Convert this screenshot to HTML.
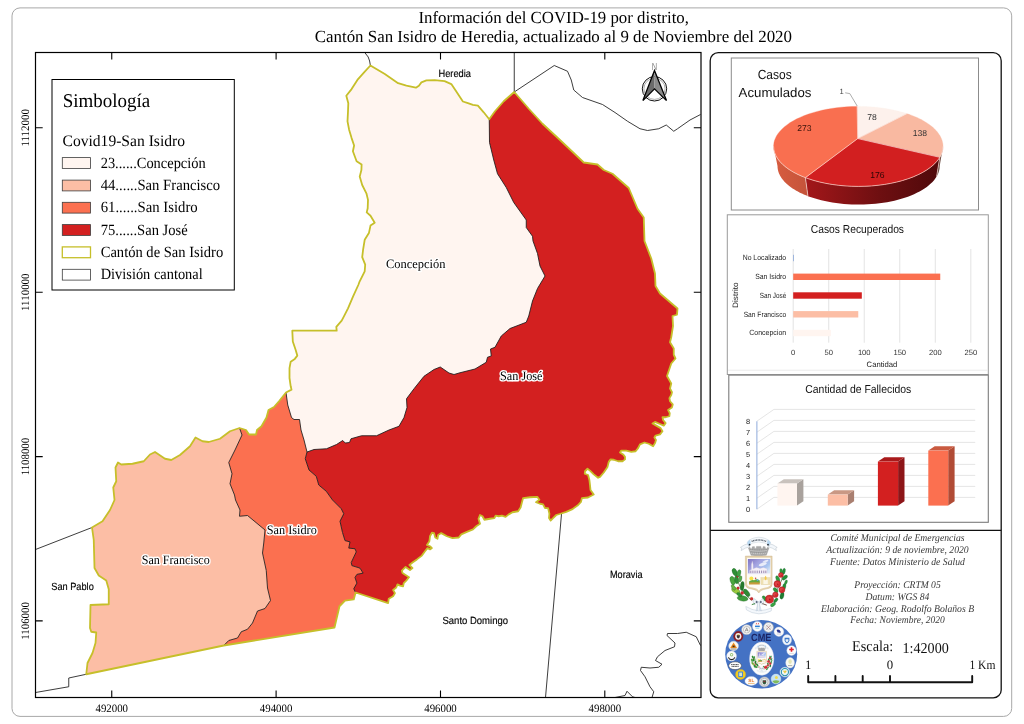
<!DOCTYPE html>
<html><head><meta charset="utf-8"><title>COVID-19 San Isidro de Heredia</title>
<style>
html,body{margin:0;padding:0;background:#fff;}
body{width:1024px;height:724px;overflow:hidden;}
svg{display:block;}
text{text-rendering:geometricPrecision;}
text{font-family:"Liberation Sans",sans-serif;}
.se{font-family:"Liberation Serif",serif;}
.sa{font-family:"Liberation Sans",sans-serif;}
.halo{paint-order:stroke;stroke:#fff;stroke-width:2.9px;stroke-linejoin:round;}
</style></head><body>
<svg width="1024" height="724" viewBox="0 0 1024 724" style="will-change:transform;opacity:0.9999">
<defs>
<linearGradient id="gside" x1="0" y1="0" x2="1" y2="0"><stop offset="0" stop-color="#a3171a"/><stop offset="0.55" stop-color="#6e0f11"/><stop offset="1" stop-color="#4f090b"/></linearGradient>
<linearGradient id="gside2" x1="0" y1="0" x2="1" y2="0"><stop offset="0" stop-color="#d85d40"/><stop offset="1" stop-color="#c4533a"/></linearGradient>
<clipPath id="mapclip"><rect x="35.5" y="52.5" width="665.5" height="645"/></clipPath>
</defs>
<rect width="1024" height="724" fill="#fff"/>

<rect x="12" y="7.9" width="999.7" height="708.5" rx="8" ry="8" fill="#fff" stroke="#a8a8a8" stroke-width="1"/>
<text class="se" x="553.7" y="22.6" font-size="17" text-anchor="middle" textLength="270.5" lengthAdjust="spacingAndGlyphs" fill="#000">Información del COVID-19 por distrito,</text>
<text class="se" x="553.4" y="42.2" font-size="17" text-anchor="middle" textLength="477.2" lengthAdjust="spacingAndGlyphs" fill="#000">Cantón San Isidro de Heredia, actualizado al 9 de Noviembre del 2020</text>
<g clip-path="url(#mapclip)">
<path d="M370.40,65.50 L384.80,74.10 L398.10,83.20 L406.40,85.70 L415.90,87.70 L418.90,85.70 L421.40,82.40 L426.40,80.40 L434.70,80.20 L444.60,81.20 L451.30,84.10 L456.30,91.50 L462.90,101.50 L467.90,103.20 L472.90,104.80 L477.90,105.70 L483.70,112.30 L489.25,119.25 L489.50,142.50 L493.75,160.00 L497.50,173.75 L506.25,187.50 L513.75,202.50 L526.25,220.00 L526.25,227.50 L532.50,236.25 L533.00,241.00 L537.50,253.50 L540.00,266.00 L545.00,276.00 L537.50,288.50 L532.50,301.00 L528.75,316.00 L526.25,322.25 L510.00,328.50 L501.25,336.00 L495.00,347.25 L490.50,349.00 L491.25,356.00 L487.50,357.25 L486.25,362.25 L475.00,369.00 L460.00,372.75 L454.00,374.50 L449.00,373.00 L440.25,367.00 L434.00,369.50 L424.00,376.25 L414.00,388.75 L406.50,398.75 L407.00,407.50 L404.00,417.50 L399.00,426.25 L389.00,430.00 L376.50,435.75 L361.50,435.75 L351.00,438.75 L349.50,442.50 L345.25,443.00 L342.75,440.50 L336.50,444.50 L326.50,448.75 L314.00,449.50 L307.00,452.00 L304.00,440.00 L301.00,430.00 L299.50,419.50 L294.00,419.50 L291.50,417.50 L287.75,405.00 L286.00,392.50 L291.50,389.60 L290.70,386.30 L289.50,378.00 L289.50,368.10 L290.70,361.70 L294.80,358.90 L297.30,355.60 L295.60,349.80 L292.80,341.50 L292.30,330.70 L336.70,330.70 L336.30,326.90 L341.70,320.70 L344.70,314.90 L348.00,308.30 L353.00,296.60 L358.30,285.00 L359.70,281.30 L364.70,271.30 L365.20,264.70 L362.20,257.20 L363.10,249.70 L364.70,239.80 L368.90,233.10 L370.50,225.60 L374.70,222.80 L370.50,215.70 L366.70,212.40 L367.70,208.20 L368.00,199.90 L366.40,193.30 L362.20,185.00 L359.70,176.60 L361.40,170.00 L361.60,164.60 L356.60,161.30 L352.90,151.30 L354.10,145.50 L351.60,138.10 L349.10,129.70 L347.50,121.40 L348.00,111.50 L348.30,103.20 L346.30,95.70 L351.60,89.10 L357.40,79.90 L364.10,72.40 L370.40,65.50 Z" fill="#fff5f0"/>
<path d="M239.50,428.00 L230.00,431.25 L220.00,438.75 L208.75,442.00 L202.50,441.25 L195.50,437.50 L190.00,446.25 L180.00,455.00 L171.25,460.00 L165.00,458.75 L155.00,452.00 L150.00,454.50 L143.75,461.25 L132.50,463.75 L121.25,464.50 L118.00,462.50 L115.50,467.50 L116.25,481.25 L113.25,487.50 L114.50,500.00 L110.00,510.00 L102.50,521.25 L92.00,527.50 L93.75,540.00 L94.50,568.00 L98.75,575.50 L106.25,580.50 L108.75,589.25 L108.75,604.25 L90.50,605.00 L90.00,628.00 L91.25,631.75 L96.25,632.50 L95.50,643.00 L92.50,653.00 L87.50,663.00 L86.25,674.25 L223.75,645.50 L228.75,640.50 L237.50,638.00 L241.25,631.75 L247.50,629.25 L252.50,623.00 L257.50,611.00 L265.00,608.50 L270.50,600.50 L267.50,588.00 L266.25,570.50 L262.50,553.00 L263.75,543.00 L265.00,530.00 L247.50,515.50 L239.50,516.25 L240.00,510.00 L235.50,500.00 L234.50,495.00 L230.00,483.75 L232.00,473.75 L228.75,462.50 L235.00,450.00 L242.00,435.00 L239.50,428.00 Z" fill="#fcbea5"/>
<path d="M286.00,392.50 L287.75,405.00 L291.50,417.50 L294.00,419.50 L299.50,419.50 L301.00,430.00 L304.00,440.00 L307.00,452.00 L305.25,458.75 L309.00,470.00 L316.25,476.25 L318.75,485.00 L326.25,491.25 L332.50,500.00 L341.25,508.75 L343.75,513.75 L340.00,521.25 L342.50,532.50 L345.00,540.60 L350.00,541.90 L348.75,548.10 L355.00,548.75 L356.25,551.90 L351.25,562.50 L351.90,565.60 L360.00,568.10 L363.10,573.10 L356.90,574.40 L355.00,577.50 L356.90,583.10 L353.75,588.75 L355.60,592.50 L353.75,599.40 L345.00,600.60 L339.50,606.25 L334.50,627.50 L223.75,645.50 L228.75,640.50 L237.50,638.00 L241.25,631.75 L247.50,629.25 L252.50,623.00 L257.50,611.00 L265.00,608.50 L270.50,600.50 L267.50,588.00 L266.25,570.50 L262.50,553.00 L263.75,543.00 L265.00,530.00 L247.50,515.50 L239.50,516.25 L240.00,510.00 L235.50,500.00 L234.50,495.00 L230.00,483.75 L232.00,473.75 L228.75,462.50 L235.00,450.00 L242.00,435.00 L239.50,428.00 L246.00,430.00 L249.00,434.50 L256.00,434.50 L257.00,430.00 L261.50,426.25 L266.50,417.50 L268.50,410.00 L274.00,407.00 L279.00,401.25 L286.00,392.50 Z" fill="#fb7050"/>
<path d="M489.25,119.25 L495.00,111.25 L503.75,101.25 L514.25,92.00 L528.75,108.75 L542.50,123.75 L560.00,140.00 L583.75,162.50 L597.50,164.50 L603.75,170.00 L612.50,173.75 L628.75,188.00 L637.50,208.75 L643.75,217.50 L644.50,241.00 L651.25,258.50 L655.00,273.50 L655.50,286.00 L660.00,293.50 L677.50,308.50 L677.00,314.75 L672.50,316.00 L673.00,326.00 L671.25,337.25 L670.00,342.25 L673.75,348.50 L673.75,354.75 L675.50,358.50 L671.25,363.50 L667.00,376.00 L671.25,383.50 L670.00,388.50 L672.00,392.25 L671.25,395.00 L669.40,398.10 L670.00,401.25 L672.75,404.40 L671.90,407.50 L668.10,410.00 L669.75,413.10 L669.40,416.25 L665.60,417.25 L662.50,417.25 L663.10,420.00 L665.60,423.10 L663.75,425.60 L659.40,423.75 L655.00,421.90 L652.50,423.50 L656.25,425.60 L660.60,428.10 L662.50,431.25 L660.00,434.40 L655.60,435.60 L654.40,437.50 L656.00,440.00 L655.00,443.10 L653.10,446.25 L648.75,443.75 L644.40,442.50 L640.00,444.40 L638.10,448.10 L635.60,451.25 L631.25,451.90 L626.25,450.60 L621.25,450.60 L620.00,452.50 L623.10,454.40 L625.00,456.90 L625.00,459.40 L622.50,461.25 L618.10,461.25 L613.75,459.75 L610.60,459.40 L608.75,461.90 L607.50,466.90 L603.75,472.50 L600.00,476.90 L598.10,477.75 L593.75,474.40 L590.00,470.60 L587.50,468.75 L585.00,471.25 L584.75,473.75 L588.10,475.00 L589.40,480.00 L590.00,485.00 L590.50,490.00 L593.75,494.50 L588.00,497.50 L581.90,498.10 L581.00,501.90 L577.50,505.60 L571.90,509.40 L566.25,511.90 L561.25,513.50 L556.25,515.00 L553.10,518.10 L550.60,520.60 L549.00,518.10 L549.40,513.75 L548.10,508.10 L545.00,508.10 L543.10,504.40 L540.00,503.75 L536.00,502.25 L539.40,499.75 L537.50,496.90 L530.00,497.25 L523.10,498.10 L521.90,502.50 L520.60,507.50 L518.10,511.25 L512.50,512.25 L508.75,514.40 L505.60,516.90 L501.90,515.60 L498.75,516.25 L495.60,515.60 L494.40,518.10 L490.00,518.75 L484.40,519.75 L482.50,516.25 L480.00,515.00 L478.50,518.75 L480.00,523.75 L476.25,526.25 L473.00,529.40 L466.90,531.90 L461.25,534.40 L458.75,537.50 L452.50,538.10 L446.90,536.25 L441.25,533.10 L438.10,535.00 L437.50,538.75 L435.25,537.50 L434.00,533.10 L431.90,532.75 L430.00,536.25 L429.40,541.25 L426.90,545.00 L430.00,546.25 L431.90,548.10 L430.00,549.40 L427.50,548.10 L425.00,551.25 L421.90,555.60 L416.90,559.40 L412.50,562.50 L409.40,565.00 L412.50,568.10 L410.00,570.00 L405.60,566.90 L401.90,570.60 L402.50,573.10 L409.00,577.25 L406.25,580.60 L403.75,583.10 L403.10,586.25 L400.00,585.60 L397.50,584.40 L396.25,587.50 L393.10,590.00 L395.00,593.10 L393.10,596.25 L388.75,598.75 L388.10,603.10 L355.60,592.50 L353.75,588.75 L356.90,583.10 L355.00,577.50 L356.90,574.40 L363.10,573.10 L360.00,568.10 L351.90,565.60 L351.25,562.50 L356.25,551.90 L355.00,548.75 L348.75,548.10 L350.00,541.90 L345.00,540.60 L342.50,532.50 L340.00,521.25 L343.75,513.75 L341.25,508.75 L332.50,500.00 L326.25,491.25 L318.75,485.00 L316.25,476.25 L309.00,470.00 L305.25,458.75 L307.00,452.00 L314.00,449.50 L326.50,448.75 L336.50,444.50 L342.75,440.50 L345.25,443.00 L349.50,442.50 L351.00,438.75 L361.50,435.75 L376.50,435.75 L389.00,430.00 L399.00,426.25 L404.00,417.50 L407.00,407.50 L406.50,398.75 L414.00,388.75 L424.00,376.25 L434.00,369.50 L440.25,367.00 L449.00,373.00 L454.00,374.50 L460.00,372.75 L475.00,369.00 L486.25,362.25 L487.50,357.25 L491.25,356.00 L490.50,349.00 L495.00,347.25 L501.25,336.00 L510.00,328.50 L526.25,322.25 L528.75,316.00 L532.50,301.00 L537.50,288.50 L545.00,276.00 L540.00,266.00 L537.50,253.50 L533.00,241.00 L532.50,236.25 L526.25,227.50 L526.25,220.00 L513.75,202.50 L506.25,187.50 L497.50,173.75 L493.75,160.00 L489.50,142.50 L489.25,119.25 Z" fill="#d32020"/>
<path d="M489.25,119.25 L489.50,142.50 L493.75,160.00 L497.50,173.75 L506.25,187.50 L513.75,202.50 L526.25,220.00 L526.25,227.50 L532.50,236.25 L533.00,241.00 L537.50,253.50 L540.00,266.00 L545.00,276.00 L537.50,288.50 L532.50,301.00 L528.75,316.00 L526.25,322.25 L510.00,328.50 L501.25,336.00 L495.00,347.25 L490.50,349.00 L491.25,356.00 L487.50,357.25 L486.25,362.25 L475.00,369.00 L460.00,372.75 L454.00,374.50 L449.00,373.00 L440.25,367.00 L434.00,369.50 L424.00,376.25 L414.00,388.75 L406.50,398.75 L407.00,407.50 L404.00,417.50 L399.00,426.25 L389.00,430.00 L376.50,435.75 L361.50,435.75 L351.00,438.75 L349.50,442.50 L345.25,443.00 L342.75,440.50 L336.50,444.50 L326.50,448.75 L314.00,449.50 L307.00,452.00" fill="none" stroke="#1a1a1a" stroke-width="0.85" stroke-linejoin="round"/>
<path d="M286.00,392.50 L287.75,405.00 L291.50,417.50 L294.00,419.50 L299.50,419.50 L301.00,430.00 L304.00,440.00 L307.00,452.00" fill="none" stroke="#1a1a1a" stroke-width="0.85" stroke-linejoin="round"/>
<path d="M307.00,452.00 L305.25,458.75 L309.00,470.00 L316.25,476.25 L318.75,485.00 L326.25,491.25 L332.50,500.00 L341.25,508.75 L343.75,513.75 L340.00,521.25 L342.50,532.50 L345.00,540.60 L350.00,541.90 L348.75,548.10 L355.00,548.75 L356.25,551.90 L351.25,562.50 L351.90,565.60 L360.00,568.10 L363.10,573.10 L356.90,574.40 L355.00,577.50 L356.90,583.10 L353.75,588.75 L355.60,592.50" fill="none" stroke="#1a1a1a" stroke-width="0.85" stroke-linejoin="round"/>
<path d="M239.50,428.00 L242.00,435.00 L235.00,450.00 L228.75,462.50 L232.00,473.75 L230.00,483.75 L234.50,495.00 L235.50,500.00 L240.00,510.00 L239.50,516.25 L247.50,515.50 L265.00,530.00 L263.75,543.00 L262.50,553.00 L266.25,570.50 L267.50,588.00 L270.50,600.50 L265.00,608.50 L257.50,611.00 L252.50,623.00 L247.50,629.25 L241.25,631.75 L237.50,638.00 L228.75,640.50 L223.75,645.50" fill="none" stroke="#1a1a1a" stroke-width="0.85" stroke-linejoin="round"/>
<path d="M364.75,52.50 L368.20,57.00 L369.60,61.00 L370.40,65.50" fill="none" stroke="#1a1a1a" stroke-width="0.85" stroke-linejoin="round"/>
<path d="M514.25,52.50 L514.25,92.00" fill="none" stroke="#1a1a1a" stroke-width="0.85" stroke-linejoin="round"/>
<path d="M514.25,92.00 L554.25,65.50 L567.50,71.25 L571.25,80.00 L573.75,90.00 L582.50,97.50 L602.50,104.50 L615.00,112.50 L627.50,121.25 L640.00,128.75 L647.50,130.50 L658.75,128.75 L666.25,125.00 L673.75,131.25 L677.50,128.75 L690.00,120.00 L700.50,114.50" fill="none" stroke="#1a1a1a" stroke-width="0.85" stroke-linejoin="round"/>
<path d="M561.50,514.00 L545.50,697.50" fill="none" stroke="#1a1a1a" stroke-width="0.85" stroke-linejoin="round"/>
<path d="M92.00,527.50 L35.50,549.50" fill="none" stroke="#1a1a1a" stroke-width="0.85" stroke-linejoin="round"/>
<path d="M86.25,674.25 L68.75,678.00 L68.75,686.75 L35.50,692.50" fill="none" stroke="#1a1a1a" stroke-width="0.85" stroke-linejoin="round"/>
<path d="M700.50,645.50 L696.25,636.75 L686.25,632.25 L677.50,633.50 L667.50,633.50 L667.00,635.50 L675.00,643.00 L674.50,646.75 L665.00,650.50 L657.50,656.75 L655.50,660.50 L662.00,664.25 L658.75,667.25 L650.00,668.00 L641.25,667.25 L640.50,670.50 L645.00,676.75 L650.00,686.75 L653.75,691.75 L652.00,697.50" fill="none" stroke="#1a1a1a" stroke-width="0.85" stroke-linejoin="round"/>
<path d="M615.00,697.50 L625.00,695.50 L627.00,691.25 L632.50,696.75 L635.00,697.50" fill="none" stroke="#1a1a1a" stroke-width="0.85" stroke-linejoin="round"/>
<path d="M370.40,65.50 L384.80,74.10 L398.10,83.20 L406.40,85.70 L415.90,87.70 L418.90,85.70 L421.40,82.40 L426.40,80.40 L434.70,80.20 L444.60,81.20 L451.30,84.10 L456.30,91.50 L462.90,101.50 L467.90,103.20 L472.90,104.80 L477.90,105.70 L483.70,112.30 L489.25,119.25 L495.00,111.25 L503.75,101.25 L514.25,92.00 L528.75,108.75 L542.50,123.75 L560.00,140.00 L583.75,162.50 L597.50,164.50 L603.75,170.00 L612.50,173.75 L628.75,188.00 L637.50,208.75 L643.75,217.50 L644.50,241.00 L651.25,258.50 L655.00,273.50 L655.50,286.00 L660.00,293.50 L677.50,308.50 L677.00,314.75 L672.50,316.00 L673.00,326.00 L671.25,337.25 L670.00,342.25 L673.75,348.50 L673.75,354.75 L675.50,358.50 L671.25,363.50 L667.00,376.00 L671.25,383.50 L670.00,388.50 L672.00,392.25 L671.25,395.00 L669.40,398.10 L670.00,401.25 L672.75,404.40 L671.90,407.50 L668.10,410.00 L669.75,413.10 L669.40,416.25 L665.60,417.25 L662.50,417.25 L663.10,420.00 L665.60,423.10 L663.75,425.60 L659.40,423.75 L655.00,421.90 L652.50,423.50 L656.25,425.60 L660.60,428.10 L662.50,431.25 L660.00,434.40 L655.60,435.60 L654.40,437.50 L656.00,440.00 L655.00,443.10 L653.10,446.25 L648.75,443.75 L644.40,442.50 L640.00,444.40 L638.10,448.10 L635.60,451.25 L631.25,451.90 L626.25,450.60 L621.25,450.60 L620.00,452.50 L623.10,454.40 L625.00,456.90 L625.00,459.40 L622.50,461.25 L618.10,461.25 L613.75,459.75 L610.60,459.40 L608.75,461.90 L607.50,466.90 L603.75,472.50 L600.00,476.90 L598.10,477.75 L593.75,474.40 L590.00,470.60 L587.50,468.75 L585.00,471.25 L584.75,473.75 L588.10,475.00 L589.40,480.00 L590.00,485.00 L590.50,490.00 L593.75,494.50 L588.00,497.50 L581.90,498.10 L581.00,501.90 L577.50,505.60 L571.90,509.40 L566.25,511.90 L561.25,513.50 L556.25,515.00 L553.10,518.10 L550.60,520.60 L549.00,518.10 L549.40,513.75 L548.10,508.10 L545.00,508.10 L543.10,504.40 L540.00,503.75 L536.00,502.25 L539.40,499.75 L537.50,496.90 L530.00,497.25 L523.10,498.10 L521.90,502.50 L520.60,507.50 L518.10,511.25 L512.50,512.25 L508.75,514.40 L505.60,516.90 L501.90,515.60 L498.75,516.25 L495.60,515.60 L494.40,518.10 L490.00,518.75 L484.40,519.75 L482.50,516.25 L480.00,515.00 L478.50,518.75 L480.00,523.75 L476.25,526.25 L473.00,529.40 L466.90,531.90 L461.25,534.40 L458.75,537.50 L452.50,538.10 L446.90,536.25 L441.25,533.10 L438.10,535.00 L437.50,538.75 L435.25,537.50 L434.00,533.10 L431.90,532.75 L430.00,536.25 L429.40,541.25 L426.90,545.00 L430.00,546.25 L431.90,548.10 L430.00,549.40 L427.50,548.10 L425.00,551.25 L421.90,555.60 L416.90,559.40 L412.50,562.50 L409.40,565.00 L412.50,568.10 L410.00,570.00 L405.60,566.90 L401.90,570.60 L402.50,573.10 L409.00,577.25 L406.25,580.60 L403.75,583.10 L403.10,586.25 L400.00,585.60 L397.50,584.40 L396.25,587.50 L393.10,590.00 L395.00,593.10 L393.10,596.25 L388.75,598.75 L388.10,603.10 L355.60,592.50 L353.75,599.40 L345.00,600.60 L339.50,606.25 L334.50,627.50 L223.75,645.50 L86.25,674.25 L87.50,663.00 L92.50,653.00 L95.50,643.00 L96.25,632.50 L91.25,631.75 L90.00,628.00 L90.50,605.00 L108.75,604.25 L108.75,589.25 L106.25,580.50 L98.75,575.50 L94.50,568.00 L93.75,540.00 L92.00,527.50 L102.50,521.25 L110.00,510.00 L114.50,500.00 L113.25,487.50 L116.25,481.25 L115.50,467.50 L118.00,462.50 L121.25,464.50 L132.50,463.75 L143.75,461.25 L150.00,454.50 L155.00,452.00 L165.00,458.75 L171.25,460.00 L180.00,455.00 L190.00,446.25 L195.50,437.50 L202.50,441.25 L208.75,442.00 L220.00,438.75 L230.00,431.25 L239.50,428.00 L246.00,430.00 L249.00,434.50 L256.00,434.50 L257.00,430.00 L261.50,426.25 L266.50,417.50 L268.50,410.00 L274.00,407.00 L279.00,401.25 L286.00,392.50 L291.50,389.60 L290.70,386.30 L289.50,378.00 L289.50,368.10 L290.70,361.70 L294.80,358.90 L297.30,355.60 L295.60,349.80 L292.80,341.50 L292.30,330.70 L336.70,330.70 L336.30,326.90 L341.70,320.70 L344.70,314.90 L348.00,308.30 L353.00,296.60 L358.30,285.00 L359.70,281.30 L364.70,271.30 L365.20,264.70 L362.20,257.20 L363.10,249.70 L364.70,239.80 L368.90,233.10 L370.50,225.60 L374.70,222.80 L370.50,215.70 L366.70,212.40 L367.70,208.20 L368.00,199.90 L366.40,193.30 L362.20,185.00 L359.70,176.60 L361.40,170.00 L361.60,164.60 L356.60,161.30 L352.90,151.30 L354.10,145.50 L351.60,138.10 L349.10,129.70 L347.50,121.40 L348.00,111.50 L348.30,103.20 L346.30,95.70 L351.60,89.10 L357.40,79.90 L364.10,72.40 L370.40,65.50 Z" fill="none" stroke="#c6bf2a" stroke-width="1.8" stroke-linejoin="round"/>
</g>
<rect x="35.5" y="52.5" width="665.5" height="645" fill="none" stroke="#000" stroke-width="1.2"/>
<path d="M111.75,52.5 v7 M111.75,697.5 v-7" stroke="#000" stroke-width="1.1"/>
<path d="M276.1,52.5 v7 M276.1,697.5 v-7" stroke="#000" stroke-width="1.1"/>
<path d="M440.5,52.5 v7 M440.5,697.5 v-7" stroke="#000" stroke-width="1.1"/>
<path d="M604.8,52.5 v7 M604.8,697.5 v-7" stroke="#000" stroke-width="1.1"/>
<path d="M35.5,127.8 h7.2 M701,127.8 h-7.2" stroke="#000" stroke-width="1.1"/>
<path d="M35.5,292.2 h7.2 M701,292.2 h-7.2" stroke="#000" stroke-width="1.1"/>
<path d="M35.5,456.6 h7.2 M701,456.6 h-7.2" stroke="#000" stroke-width="1.1"/>
<path d="M35.5,620.9 h7.2 M701,620.9 h-7.2" stroke="#000" stroke-width="1.1"/>
<text class="se" x="111.75" y="711.5" font-size="11.3" text-anchor="middle" textLength="32.5" lengthAdjust="spacingAndGlyphs">492000</text>
<text class="se" x="276.1" y="711.5" font-size="11.3" text-anchor="middle" textLength="32.5" lengthAdjust="spacingAndGlyphs">494000</text>
<text class="se" x="440.5" y="711.5" font-size="11.3" text-anchor="middle" textLength="32.5" lengthAdjust="spacingAndGlyphs">496000</text>
<text class="se" x="604.8" y="711.5" font-size="11.3" text-anchor="middle" textLength="32.5" lengthAdjust="spacingAndGlyphs">498000</text>
<text class="se" transform="translate(28.5,127.8) rotate(-90)" font-size="11.3" text-anchor="middle" textLength="37.5" lengthAdjust="spacingAndGlyphs">1112000</text>
<text class="se" transform="translate(28.5,292.2) rotate(-90)" font-size="11.3" text-anchor="middle" textLength="37.5" lengthAdjust="spacingAndGlyphs">1110000</text>
<text class="se" transform="translate(28.5,456.6) rotate(-90)" font-size="11.3" text-anchor="middle" textLength="37.5" lengthAdjust="spacingAndGlyphs">1108000</text>
<text class="se" transform="translate(28.5,620.9) rotate(-90)" font-size="11.3" text-anchor="middle" textLength="37.5" lengthAdjust="spacingAndGlyphs">1106000</text>
<text class="se halo" x="386" y="267.7" font-size="12.8" textLength="59.5" lengthAdjust="spacingAndGlyphs">Concepción</text>
<text class="se halo" x="500" y="380.2" font-size="12.8" textLength="42.5" lengthAdjust="spacingAndGlyphs">San José</text>
<text class="se halo" x="266.75" y="534.3" font-size="12.8" textLength="50" lengthAdjust="spacingAndGlyphs">San Isidro</text>
<text class="se halo" x="141.75" y="564.3" font-size="12.8" textLength="68" lengthAdjust="spacingAndGlyphs">San Francisco</text>
<text class="sa" x="438.5" y="77.3" font-size="10.4" textLength="32.5" lengthAdjust="spacingAndGlyphs" fill="#000" stroke="#000" stroke-width="0.15">Heredia</text>
<text class="sa" x="610" y="577.7" font-size="10.4" textLength="32.5" lengthAdjust="spacingAndGlyphs" fill="#000" stroke="#000" stroke-width="0.15">Moravia</text>
<text class="sa" x="442.5" y="624.2" font-size="10.4" textLength="65.5" lengthAdjust="spacingAndGlyphs" fill="#000" stroke="#000" stroke-width="0.15">Santo Domingo</text>
<text class="sa" x="51.25" y="589.9" font-size="10.4" textLength="42.5" lengthAdjust="spacingAndGlyphs" fill="#000" stroke="#000" stroke-width="0.15">San Pablo</text>
<g>
<circle cx="654.5" cy="88.8" r="12.2" fill="none" stroke="#111" stroke-width="1.0"/>
<circle cx="654.5" cy="88.8" r="10.6" fill="none" stroke="#9a9a9a" stroke-width="0.8"/>
<path d="M654.5,70.6 L642.9,100.6 L654.5,88.8 Z" fill="#6b6b6b"/>
<path d="M654.5,70.6 L666.5,100.6 L654.5,88.8 Z" fill="#8a8a8a"/>
<path d="M654.5,70.6 L642.9,100.6 L654.5,88.8 L666.5,100.6 Z" fill="none" stroke="#000" stroke-width="1.3" stroke-linejoin="miter"/>
<text class="sa" x="654.4" y="69.9" font-size="10.2" text-anchor="middle" textLength="5.4" lengthAdjust="spacingAndGlyphs" fill="#858585">N</text>
</g>
<rect x="52" y="79.5" width="182.3" height="210.5" fill="#fff" stroke="#000" stroke-width="1"/>
<text class="se" x="62.7" y="107.3" font-size="19.5" textLength="87.5" lengthAdjust="spacingAndGlyphs">Simbología</text>
<text class="se" x="62.5" y="145.5" font-size="16" textLength="122.5" lengthAdjust="spacingAndGlyphs">Covid19-San Isidro</text>
<rect x="62.3" y="157.6" width="28.2" height="10.8" fill="#fff5f0" stroke="#3c3c3c" stroke-width="0.8"/>
<text class="se" x="100.7" y="167.7" font-size="15.6" textLength="105" lengthAdjust="spacingAndGlyphs">23......Concepción</text>
<rect x="62.3" y="180.1" width="28.2" height="10.8" fill="#fcbea5" stroke="#3c3c3c" stroke-width="0.8"/>
<text class="se" x="100.7" y="190.2" font-size="15.6" textLength="119.5" lengthAdjust="spacingAndGlyphs">44......San Francisco</text>
<rect x="62.3" y="202.29999999999998" width="28.2" height="10.8" fill="#fb7050" stroke="#3c3c3c" stroke-width="0.8"/>
<text class="se" x="100.7" y="212.39999999999998" font-size="15.6" textLength="97" lengthAdjust="spacingAndGlyphs">61......San Isidro</text>
<rect x="62.3" y="224.6" width="28.2" height="10.8" fill="#d32020" stroke="#3c3c3c" stroke-width="0.8"/>
<text class="se" x="100.7" y="234.7" font-size="15.6" textLength="87" lengthAdjust="spacingAndGlyphs">75......San José</text>
<rect x="62.3" y="246.9" width="28.2" height="10.8" fill="#fff" stroke="#c6bf2a" stroke-width="1.3"/>
<text class="se" x="100.7" y="257.0" font-size="15.6" textLength="122.5" lengthAdjust="spacingAndGlyphs">Cantón de San Isidro</text>
<rect x="62.3" y="269.3" width="28.2" height="10.8" fill="#fff" stroke="#3c3c3c" stroke-width="0.8"/>
<text class="se" x="100.7" y="279.4" font-size="15.6" textLength="102" lengthAdjust="spacingAndGlyphs">División cantonal</text>
<rect x="710.2" y="52.7" width="291" height="645.2" rx="8" ry="8" fill="#fff" stroke="#111" stroke-width="1.3"/>
<path d="M710.2,530.4 H1001.2" stroke="#111" stroke-width="1.1"/>
<rect x="731.3" y="58" width="247.2" height="152" fill="#fff" stroke="#8c8c8c" stroke-width="1"/>
<text class="sa" x="774.7" y="78.8" font-size="13.2" text-anchor="middle" textLength="34" lengthAdjust="spacingAndGlyphs" fill="#111">Casos</text>
<text class="sa" x="738.6" y="96.5" font-size="13.2" textLength="72.8" lengthAdjust="spacingAndGlyphs" fill="#111">Acumulados</text>
<path d="M943.00,146.40 L943.00,146.68 L942.99,146.95 L942.98,147.23 L942.97,147.51 L942.95,147.78 L942.93,148.06 L942.90,148.34 L942.87,148.61 L942.84,148.89 L942.80,149.16 L942.76,149.44 L942.71,149.72 L942.66,149.99 L942.60,150.27 L942.54,150.54 L942.48,150.82 L942.42,151.09 L942.34,151.37 L942.27,151.64 L942.19,151.92 L942.11,152.19 L942.02,152.46 L941.93,152.74 L941.84,153.01 L941.74,153.28 L941.63,153.55 L941.53,153.83 L941.42,154.10 L941.30,154.37 L941.18,154.64 L941.06,154.91 L940.93,155.18 L940.80,155.45 L940.67,155.72 L940.53,155.99 L940.39,156.26 L940.24,156.52 L940.09,156.79 L939.94,157.06 L939.78,157.33 L936.62,176.54 L936.77,176.29 L936.92,176.03 L937.06,175.77 L937.20,175.51 L937.34,175.25 L937.47,174.99 L937.60,174.73 L937.72,174.47 L937.84,174.21 L937.96,173.95 L938.07,173.69 L938.18,173.43 L938.29,173.17 L938.39,172.90 L938.49,172.64 L938.59,172.38 L938.68,172.11 L938.76,171.85 L938.85,171.59 L938.93,171.32 L939.00,171.06 L939.07,170.79 L939.14,170.53 L939.20,170.26 L939.26,170.00 L939.32,169.73 L939.37,169.47 L939.42,169.20 L939.47,168.93 L939.51,168.67 L939.54,168.40 L939.58,168.13 L939.60,167.87 L939.63,167.60 L939.65,167.33 L939.67,167.07 L939.68,166.80 L939.69,166.53 L939.70,166.27 L939.70,166.00 Z" fill="#6a4a40"/>
<path d="M939.78,157.33 L938.54,159.21 L937.11,161.05 L935.49,162.87 L933.68,164.64 L931.69,166.37 L929.52,168.05 L927.18,169.68 L924.67,171.25 L922.00,172.76 L919.17,174.21 L916.20,175.59 L913.09,176.90 L909.85,178.14 L906.48,179.30 L902.99,180.38 L899.40,181.38 L895.70,182.29 L891.92,183.11 L888.05,183.85 L884.12,184.50 L880.12,185.05 L876.06,185.51 L871.97,185.88 L867.84,186.15 L863.69,186.32 L859.52,186.40 L855.35,186.38 L851.19,186.26 L847.05,186.05 L842.93,185.74 L838.85,185.33 L834.82,184.83 L830.84,184.24 L826.93,183.56 L823.10,182.78 L819.35,181.92 L815.70,180.97 L812.15,179.94 L808.71,178.83 L805.39,177.64 L807.94,196.14 L811.12,197.29 L814.41,198.37 L817.81,199.36 L821.31,200.28 L824.90,201.11 L828.57,201.86 L832.31,202.52 L836.12,203.09 L839.98,203.57 L843.88,203.96 L847.82,204.26 L851.79,204.46 L855.78,204.58 L859.77,204.60 L863.76,204.52 L867.73,204.35 L871.69,204.09 L875.61,203.74 L879.49,203.30 L883.32,202.76 L887.09,202.14 L890.79,201.43 L894.41,200.63 L897.95,199.75 L901.39,198.79 L904.73,197.75 L907.96,196.63 L911.06,195.44 L914.04,194.17 L916.89,192.84 L919.59,191.44 L922.15,189.98 L924.55,188.47 L926.79,186.89 L928.87,185.27 L930.78,183.60 L932.51,181.89 L934.06,180.14 L935.43,178.36 L936.62,176.54 Z" fill="url(#gside)"/>
<path d="M805.39,177.64 L803.92,177.07 L802.48,176.49 L801.07,175.89 L799.69,175.27 L798.33,174.65 L797.01,174.01 L795.71,173.35 L794.45,172.68 L793.22,172.00 L792.02,171.30 L790.86,170.60 L789.72,169.88 L788.63,169.15 L787.57,168.40 L786.54,167.65 L785.55,166.89 L784.60,166.11 L783.68,165.33 L782.80,164.53 L781.96,163.73 L781.16,162.92 L780.39,162.10 L779.67,161.27 L778.98,160.43 L778.34,159.59 L777.73,158.74 L777.17,157.89 L776.64,157.02 L776.16,156.16 L775.72,155.29 L775.32,154.41 L774.96,153.53 L774.64,152.65 L774.36,151.76 L774.13,150.87 L773.94,149.98 L773.79,149.09 L773.69,148.19 L773.62,147.30 L773.60,146.40 L777.50,166.00 L777.52,166.86 L777.58,167.73 L777.68,168.59 L777.83,169.45 L778.01,170.31 L778.23,171.17 L778.50,172.03 L778.80,172.88 L779.14,173.73 L779.53,174.58 L779.95,175.42 L780.41,176.25 L780.92,177.08 L781.46,177.91 L782.04,178.73 L782.65,179.54 L783.31,180.35 L784.00,181.15 L784.74,181.94 L785.51,182.72 L786.31,183.50 L787.15,184.26 L788.03,185.02 L788.94,185.77 L789.89,186.51 L790.87,187.23 L791.89,187.95 L792.94,188.66 L794.02,189.35 L795.14,190.03 L796.28,190.70 L797.46,191.36 L798.67,192.01 L799.91,192.64 L801.18,193.26 L802.48,193.86 L803.80,194.46 L805.15,195.03 L806.53,195.60 L807.94,196.14 Z" fill="url(#gside2)"/>
<path d="M939.78,157.33 L936.62,176.54" stroke="#f3d9d2" stroke-width="0.7"/>
<path d="M805.39,177.64 L807.94,196.14" stroke="#f3d9d2" stroke-width="0.7"/>
<path d="M857.7,138.6 L857.10,106.40 L858.42,106.40 L859.75,106.41 L861.07,106.42 L862.40,106.45 L863.72,106.48 L865.04,106.53 L866.36,106.58 L867.68,106.65 L868.99,106.72 L870.31,106.80 L871.62,106.90 L872.92,107.00 L874.23,107.11 L875.52,107.24 L876.82,107.37 L878.11,107.51 L879.40,107.66 L880.68,107.82 L881.95,107.99 L883.22,108.17 L884.48,108.36 L885.74,108.56 L886.99,108.76 L888.23,108.98 L889.47,109.21 L890.70,109.44 L891.92,109.69 L893.13,109.94 L894.33,110.20 L895.52,110.47 L896.71,110.75 L897.89,111.04 L899.05,111.33 L900.21,111.64 L901.35,111.95 L902.49,112.28 L903.61,112.61 L904.73,112.94 L905.83,113.29 L906.92,113.65 Z" fill="#fdf1ec" stroke="#fdf1ec" stroke-width="0.3"/>
<path d="M857.7,138.6 L906.92,113.65 L909.04,114.37 L911.11,115.13 L913.13,115.91 L915.10,116.73 L917.01,117.57 L918.87,118.44 L920.67,119.34 L922.41,120.26 L924.09,121.21 L925.71,122.18 L927.26,123.18 L928.75,124.19 L930.17,125.23 L931.52,126.29 L932.80,127.37 L934.01,128.46 L935.15,129.58 L936.21,130.71 L937.20,131.85 L938.11,133.01 L938.95,134.18 L939.71,135.36 L940.39,136.56 L941.00,137.76 L941.53,138.97 L941.97,140.19 L942.34,141.41 L942.62,142.64 L942.83,143.87 L942.96,145.11 L943.00,146.34 L942.96,147.58 L942.85,148.81 L942.65,150.04 L942.37,151.27 L942.01,152.50 L941.57,153.72 L941.05,154.93 L940.46,156.13 L939.78,157.33 Z" fill="#f9b9a1" stroke="#f9b9a1" stroke-width="0.3"/>
<path d="M857.7,138.6 L939.78,157.33 L938.54,159.21 L937.11,161.05 L935.49,162.87 L933.68,164.64 L931.69,166.37 L929.52,168.05 L927.18,169.68 L924.67,171.25 L922.00,172.76 L919.17,174.21 L916.20,175.59 L913.09,176.90 L909.85,178.14 L906.48,179.30 L902.99,180.38 L899.40,181.38 L895.70,182.29 L891.92,183.11 L888.05,183.85 L884.12,184.50 L880.12,185.05 L876.06,185.51 L871.97,185.88 L867.84,186.15 L863.69,186.32 L859.52,186.40 L855.35,186.38 L851.19,186.26 L847.05,186.05 L842.93,185.74 L838.85,185.33 L834.82,184.83 L830.84,184.24 L826.93,183.56 L823.10,182.78 L819.35,181.92 L815.70,180.97 L812.15,179.94 L808.71,178.83 L805.39,177.64 Z" fill="#d21f20" stroke="#d21f20" stroke-width="0.3"/>
<path d="M857.7,138.6 L805.39,177.64 L801.44,176.05 L797.70,174.34 L794.19,172.54 L790.91,170.63 L787.90,168.64 L785.14,166.56 L782.66,164.40 L780.47,162.18 L778.57,159.90 L776.97,157.57 L775.67,155.19 L774.69,152.78 L774.01,150.35 L773.66,147.91 L773.62,145.45 L773.91,143.00 L774.50,140.57 L775.42,138.15 L776.64,135.77 L778.18,133.43 L780.01,131.13 L782.14,128.90 L784.55,126.73 L787.25,124.63 L790.20,122.61 L793.42,120.69 L796.88,118.86 L800.57,117.13 L804.47,115.52 L808.58,114.02 L812.88,112.64 L817.34,111.39 L821.96,110.27 L826.72,109.28 L831.60,108.44 L836.57,107.74 L841.63,107.18 L846.75,106.77 L851.91,106.51 L857.10,106.40 Z" fill="#f96f50" stroke="#f96f50" stroke-width="0.3"/>
<path d="M857.7,138.6 L857.10,106.40" stroke="#fbe9e4" stroke-width="0.6"/>
<path d="M857.7,138.6 L906.92,113.65" stroke="#fbe9e4" stroke-width="0.6"/>
<path d="M857.7,138.6 L939.78,157.33" stroke="#fbe9e4" stroke-width="0.6"/>
<path d="M857.7,138.6 L805.39,177.64" stroke="#fbe9e4" stroke-width="0.6"/>
<path d="M943.00,146.40 L942.74,149.54 L941.96,152.66 L940.66,155.74 L938.85,158.76 L936.55,161.71 L933.77,164.56 L930.52,167.30 L926.82,169.91 L922.71,172.38 L918.19,174.68 L913.31,176.82 L908.09,178.76 L902.56,180.51 L896.75,182.04 L890.71,183.36 L884.47,184.44 L878.07,185.29 L871.55,185.91 L864.95,186.28 L858.30,186.40 L851.65,186.28 L845.05,185.91 L838.53,185.29 L832.13,184.44 L825.89,183.36 L819.85,182.04 L814.04,180.51 L808.51,178.76 L803.29,176.82 L798.41,174.68 L793.89,172.38 L789.78,169.91 L786.08,167.30 L782.83,164.56 L780.05,161.71 L777.75,158.76 L775.94,155.74 L774.64,152.66 L773.86,149.54 L773.60,146.40" fill="none" stroke="#f7d6cd" stroke-width="0.7"/>
<text class="sa" x="872.1" y="119.6" font-size="8.6" text-anchor="middle" fill="#333">78</text>
<text class="sa" x="919.8" y="136" font-size="8.6" text-anchor="middle" fill="#333">138</text>
<text class="sa" x="877.4" y="177.6" font-size="8.6" text-anchor="middle" fill="#2a0505">176</text>
<text class="sa" x="804.3" y="130.6" font-size="8.6" text-anchor="middle" fill="#3a140c">273</text>
<text class="sa" x="841.6" y="94.4" font-size="7.6" text-anchor="middle" fill="#444">1</text>
<path d="M845.2,92.8 L849.8,93.6 L857.2,106" fill="none" stroke="#8a8a8a" stroke-width="0.7"/>
<rect x="727.3" y="214.8" width="261" height="159.7" fill="#fff" stroke="#9a9a9a" stroke-width="1"/>
<path d="M728,370.2 H988" stroke="#e9e9e9" stroke-width="0.9"/>
<text class="sa" x="857.4" y="232.9" font-size="11.6" text-anchor="middle" textLength="93.2" lengthAdjust="spacingAndGlyphs" fill="#111">Casos Recuperados</text>
<path d="M793.20,249 V342.7" stroke="#dcdcdc" stroke-width="0.8"/>
<text class="sa" x="793.20" y="355.4" font-size="7.6" text-anchor="middle" fill="#333">0</text>
<path d="M828.72,249 V342.7" stroke="#dcdcdc" stroke-width="0.8"/>
<text class="sa" x="828.72" y="355.4" font-size="7.6" text-anchor="middle" fill="#333">50</text>
<path d="M864.24,249 V342.7" stroke="#dcdcdc" stroke-width="0.8"/>
<text class="sa" x="864.24" y="355.4" font-size="7.6" text-anchor="middle" fill="#333">100</text>
<path d="M899.76,249 V342.7" stroke="#dcdcdc" stroke-width="0.8"/>
<text class="sa" x="899.76" y="355.4" font-size="7.6" text-anchor="middle" fill="#333">150</text>
<path d="M935.28,249 V342.7" stroke="#dcdcdc" stroke-width="0.8"/>
<text class="sa" x="935.28" y="355.4" font-size="7.6" text-anchor="middle" fill="#333">200</text>
<path d="M970.80,249 V342.7" stroke="#dcdcdc" stroke-width="0.8"/>
<text class="sa" x="970.80" y="355.4" font-size="7.6" text-anchor="middle" fill="#333">250</text>
<rect x="793.2" y="254.80" width="0.71" height="6.4" fill="#7f9fd6"/>
<text class="sa" x="786.2" y="260.40" font-size="7.6" text-anchor="end" textLength="43.5" lengthAdjust="spacingAndGlyphs" fill="#222">No Localizado</text>
<rect x="793.2" y="273.60" width="147.05" height="6.4" fill="#fb7050"/>
<text class="sa" x="786.2" y="279.20" font-size="7.6" text-anchor="end" textLength="31" lengthAdjust="spacingAndGlyphs" fill="#222">San Isidro</text>
<rect x="793.2" y="292.30" width="68.62" height="6.4" fill="#d32020"/>
<text class="sa" x="786.2" y="297.90" font-size="7.6" text-anchor="end" textLength="26.5" lengthAdjust="spacingAndGlyphs" fill="#222">San José</text>
<rect x="793.2" y="311.10" width="65.07" height="6.4" fill="#fcbea5"/>
<text class="sa" x="786.2" y="316.70" font-size="7.6" text-anchor="end" textLength="42.5" lengthAdjust="spacingAndGlyphs" fill="#222">San Francisco</text>
<rect x="793.2" y="329.80" width="37.65" height="6.4" fill="#fff5f0"/>
<text class="sa" x="786.2" y="335.40" font-size="7.6" text-anchor="end" textLength="37" lengthAdjust="spacingAndGlyphs" fill="#222">Concepcion</text>
<text class="sa" x="882" y="367.3" font-size="7.8" text-anchor="middle" textLength="30.8" lengthAdjust="spacingAndGlyphs" fill="#222">Cantidad</text>
<text class="sa" transform="translate(737.6,295.2) rotate(-90)" font-size="7.8" text-anchor="middle" textLength="25.5" lengthAdjust="spacingAndGlyphs" fill="#222">Distrito</text>
<rect x="728.8" y="375.1" width="259.5" height="147.2" fill="#fff" stroke="#7c7c7c" stroke-width="1.1"/>
<text class="sa" x="858.3" y="393" font-size="11.6" text-anchor="middle" textLength="106" lengthAdjust="spacingAndGlyphs" fill="#111">Cantidad de Fallecidos</text>
<path d="M756.9,509.20 L773.9,497.40 H975.2" fill="none" stroke="#dedede" stroke-width="0.8"/>
<text class="sa" x="748.1" y="512.10" font-size="7.4" text-anchor="middle" fill="#222">0</text>
<path d="M756.9,498.20 L773.9,486.40 H975.2" fill="none" stroke="#dedede" stroke-width="0.8"/>
<text class="sa" x="748.1" y="501.10" font-size="7.4" text-anchor="middle" fill="#222">1</text>
<path d="M756.9,487.20 L773.9,475.40 H975.2" fill="none" stroke="#dedede" stroke-width="0.8"/>
<text class="sa" x="748.1" y="490.10" font-size="7.4" text-anchor="middle" fill="#222">2</text>
<path d="M756.9,476.20 L773.9,464.40 H975.2" fill="none" stroke="#dedede" stroke-width="0.8"/>
<text class="sa" x="748.1" y="479.10" font-size="7.4" text-anchor="middle" fill="#222">3</text>
<path d="M756.9,465.20 L773.9,453.40 H975.2" fill="none" stroke="#dedede" stroke-width="0.8"/>
<text class="sa" x="748.1" y="468.10" font-size="7.4" text-anchor="middle" fill="#222">4</text>
<path d="M756.9,454.20 L773.9,442.40 H975.2" fill="none" stroke="#dedede" stroke-width="0.8"/>
<text class="sa" x="748.1" y="457.10" font-size="7.4" text-anchor="middle" fill="#222">5</text>
<path d="M756.9,443.20 L773.9,431.40 H975.2" fill="none" stroke="#dedede" stroke-width="0.8"/>
<text class="sa" x="748.1" y="446.10" font-size="7.4" text-anchor="middle" fill="#222">6</text>
<path d="M756.9,432.20 L773.9,420.40 H975.2" fill="none" stroke="#dedede" stroke-width="0.8"/>
<text class="sa" x="748.1" y="435.10" font-size="7.4" text-anchor="middle" fill="#222">7</text>
<path d="M756.9,421.20 L773.9,409.40 H975.2" fill="none" stroke="#dedede" stroke-width="0.8"/>
<text class="sa" x="748.1" y="424.10" font-size="7.4" text-anchor="middle" fill="#222">8</text>
<path d="M756.9,421.3 V509.2" stroke="#8eaadb" stroke-width="1"/>
<path d="M797.0,505.6 L803.4,501.20000000000005 L803.4,479.20000000000005 L797.0,483.6 Z" fill="#a9a29d"/>
<path d="M777.4,483.6 L783.8,479.20000000000005 L803.4,479.20000000000005 L797.0,483.6 Z" fill="#c9c2bd"/>
<rect x="777.4" y="483.6" width="19.60" height="22.00" fill="#fff5f0"/>
<path d="M847.7,505.6 L854.1,501.20000000000005 L854.1,490.20000000000005 L847.7,494.6 Z" fill="#a97f70"/>
<path d="M827.8,494.6 L834.1999999999999,490.20000000000005 L854.1,490.20000000000005 L847.7,494.6 Z" fill="#c99884"/>
<rect x="827.8" y="494.6" width="19.90" height="11.00" fill="#fcbea5"/>
<path d="M898.1,505.6 L904.5,501.20000000000005 L904.5,457.20000000000005 L898.1,461.6 Z" fill="#8d1518"/>
<path d="M877.9,461.6 L884.3,457.20000000000005 L904.5,457.20000000000005 L898.1,461.6 Z" fill="#a91a1b"/>
<rect x="877.9" y="461.6" width="20.20" height="44.00" fill="#d32020"/>
<path d="M948.2,505.6 L954.6,501.20000000000005 L954.6,446.20000000000005 L948.2,450.6 Z" fill="#b14b35"/>
<path d="M928.3,450.6 L934.6999999999999,446.20000000000005 L954.6,446.20000000000005 L948.2,450.6 Z" fill="#c95a40"/>
<rect x="928.3" y="450.6" width="19.90" height="55.00" fill="#fb7050"/>
<text class="se" x="897.5" y="541.2" font-size="10.2" font-style="italic" text-anchor="middle" textLength="134.2" lengthAdjust="spacingAndGlyphs" fill="#3a3a3a">Comité Municipal de Emergencias</text>
<text class="se" x="897.5" y="552.9" font-size="10.2" font-style="italic" text-anchor="middle" textLength="142.4" lengthAdjust="spacingAndGlyphs" fill="#3a3a3a">Actualización: 9 de noviembre, 2020</text>
<text class="se" x="897.5" y="564.7" font-size="10.2" font-style="italic" text-anchor="middle" textLength="134.8" lengthAdjust="spacingAndGlyphs" fill="#3a3a3a">Fuente: Datos Ministerio de Salud</text>
<text class="se" x="897.5" y="588.1" font-size="10.2" font-style="italic" text-anchor="middle" textLength="86.4" lengthAdjust="spacingAndGlyphs" fill="#3a3a3a">Proyección: CRTM 05</text>
<text class="se" x="897.5" y="599.6" font-size="10.2" font-style="italic" text-anchor="middle" textLength="63.9" lengthAdjust="spacingAndGlyphs" fill="#3a3a3a">Datum: WGS 84</text>
<text class="se" x="897.5" y="611.5" font-size="10.2" font-style="italic" text-anchor="middle" textLength="153.2" lengthAdjust="spacingAndGlyphs" fill="#3a3a3a">Elaboración: Geog. Rodolfo Bolaños B</text>
<text class="se" x="897.5" y="623.3" font-size="10.2" font-style="italic" text-anchor="middle" textLength="94.6" lengthAdjust="spacingAndGlyphs" fill="#3a3a3a">Fecha: Noviembre, 2020</text>
<text class="se" x="852.1" y="651.2" font-size="15" textLength="41.2" lengthAdjust="spacingAndGlyphs" fill="#111">Escala:</text>
<text class="se" x="902.5" y="652.6" font-size="15" textLength="46.3" lengthAdjust="spacingAndGlyphs" fill="#111">1:42000</text>
<path d="M808.2,675.9 V682.3 H972.2 V675.9 M835.4,675.9 V682.3 M862.7,675.9 V682.3 M890,675.9 V682.3" fill="none" stroke="#111" stroke-width="1.9" stroke-linejoin="round" stroke-linecap="round"/>
<text class="se" x="808.2" y="668.8" font-size="12.8" text-anchor="middle" fill="#111">1</text>
<text class="se" x="889.9" y="668.8" font-size="12.8" text-anchor="middle" fill="#111">0</text>
<text class="se" x="969.4" y="668.8" font-size="12.8" textLength="26" lengthAdjust="spacingAndGlyphs" fill="#111">1 Km</text>
<defs><linearGradient id="gsky" x1="0" y1="0" x2="1" y2="0.7"><stop offset="0" stop-color="#7f72c2"/><stop offset="0.45" stop-color="#a5a6e2"/><stop offset="0.8" stop-color="#a9c6f0"/><stop offset="1" stop-color="#d9e6f8"/></linearGradient>
<g id="crest"><path d="M748.2,543.6 Q744.6,544.4 740.4,547.4 L741.8,548.2 L741.2,550.6 Q745.2,547.6 749.6,546.8 Z" fill="#f3f7fb" stroke="#9aa7b4" stroke-width="0.35"/>
<path d="M769.4,543.6 Q773,544.4 777.2,547.4 L775.8,548.2 L776.4,550.6 Q772.4,547.6 768,546.8 Z" fill="#f3f7fb" stroke="#9aa7b4" stroke-width="0.35"/>
<path d="M747.2,542.2 Q751,537.6 758.8,537.2 Q766.6,537.6 770.6,542.2 L769.6,545.6 Q765.4,542.2 758.8,542 Q752.2,542.2 748.2,545.6 Z" fill="#f7fafd" stroke="#a9b6c4" stroke-width="0.35"/>
<path d="M747.2,542.2 Q748.4,540.6 750,539.6 L751,543.2 Q749.4,544.2 748.2,545.6 Z" fill="#b9d8f1"/>
<path d="M770.6,542.2 Q769.4,540.6 767.8,539.6 L766.8,543.2 Q768.4,544.2 769.6,545.6 Z" fill="#b9d8f1"/>
<circle cx="749.6" cy="544.7" r="0.9" fill="#1d2733"/><circle cx="768" cy="544.7" r="0.9" fill="#1d2733"/>
<path d="M751.6,541.4 Q758.8,538.6 766.2,541.4" fill="none" stroke="#5d6773" stroke-width="1.5" stroke-dasharray="1.0,0.55"/>
<path d="M748.4,548 L750,547.2 L750.6,549 L752,548.6 L752.2,546.8 L754.4,546.6 L754.6,548.4 L756.2,548.4 L756.4,546.4 L761,546.4 L761.2,548.4 L762.8,548.4 L763,546.6 L765.2,546.8 L765.4,548.6 L766.8,549 L767.4,547.2 L769,548 L766.4,555.2 Q758.8,556.2 751,555.2 Z" fill="#a8a8a8" stroke="#8a8a8a" stroke-width="0.3"/>
<path d="M750.4,550.4 Q758.8,552 767,550.4 M751,553 Q758.8,554.4 766.4,553" fill="none" stroke="#dedede" stroke-width="0.7" stroke-dasharray="1.2,0.8"/>
<path d="M750.2,549.2 Q758.8,550.6 767.2,549.2 M750.8,551.8 Q758.8,553.2 766.6,551.8" fill="none" stroke="#7d7d7d" stroke-width="0.5" stroke-dasharray="0.9,0.9"/>
<path d="M745.4,556.1 H772.1 V584.4 Q772.1,587.4 768.6,588.4 Q762.4,589.6 761,590.6 L758.8,593 L756.6,590.6 Q755.2,589.6 749,588.4 Q745.4,587.4 745.4,584.4 Z" fill="#e6d3ae" stroke="#cdb58a" stroke-width="0.45"/>
<path d="M747,557.8 H770.6 V584 Q770.6,586.2 767.8,586.9 Q761.8,588 760.4,589 L758.8,590.8 L757.2,589 Q755.8,588 749.8,586.9 Q747,586.2 747,584 Z" fill="#fdfbf6"/>
<rect x="747.9" y="559" width="22.3" height="15.2" fill="url(#gsky)"/>
<ellipse cx="762.8" cy="564.2" rx="4.2" ry="1.5" fill="#ffffff" opacity="0.75" transform="rotate(-18 762.8 564.2)"/>
<ellipse cx="765.6" cy="561.2" rx="3" ry="1" fill="#ffffff" opacity="0.7" transform="rotate(-18 765.6 561.2)"/>
<path d="M749.6,573.4 V570.2 L751.4,569.4 V564.6 L752.3,561 L753.2,564.6 V568.8 L756.4,567.4 L760,568.4 L763.4,567.4 L767,568.8 V573.4 Z" fill="#f5f0f8" stroke="#c6bbd8" stroke-width="0.25"/>
<path d="M750.8,573.4 V570.6 M752.9,573.4 V570.6 M755,573.4 V570.6 M757.2,573.4 V570.6 M759.4,573.4 V570.6 M761.6,573.4 V570.6 M763.8,573.4 V570.6 M765.8,573.4 V570.6" stroke="#7e6a9c" stroke-width="0.75"/>
<rect x="747.9" y="573.4" width="22.3" height="1.5" fill="#fbf7fb"/>
<circle cx="751.4" cy="578.4" r="2.0" fill="#f7e24a"/>
<path d="M749,581.6 Q751.6,579.2 754.2,580.2 Q756.4,578 759.8,580.6 V583 H749 Z" fill="#63a83f"/>
<circle cx="755.6" cy="578.2" r="0.8" fill="#c9453a"/><circle cx="757.6" cy="580.2" r="0.9" fill="#5aa9d6"/>
<path d="M749,582.6 Q754.4,581.8 759.8,582.6 V584.6 H749 Z" fill="#c99a3c"/>
<rect x="760.9" y="577.6" width="9.2" height="7" fill="#efe0b2" stroke="#d5c08c" stroke-width="0.3"/>
<path d="M763.4,579.8 H767.8 V584 H763.4 Z" fill="#fbf6e6"/>
<path d="M765.6,575.8 Q767.6,578.2 765.6,580.6 Q763.6,578.2 765.6,575.8 Z" fill="#f3c84a"/>
<path d="M735.4,573 Q738,589 751.6,600.4" fill="none" stroke="#3f5a28" stroke-width="0.7"/>
<ellipse cx="734.8" cy="572.2" rx="2.3" ry="4.0" transform="rotate(-25 734.8 572.2)" fill="#2f8f35" stroke="#1f5e24" stroke-width="0.3"/>
<ellipse cx="738.8" cy="573.4" rx="1.9" ry="3.8" transform="rotate(15 738.8 573.4)" fill="#3fa043" stroke="#1f5e24" stroke-width="0.3"/>
<ellipse cx="732.6" cy="580.6" rx="2.4" ry="4.4" transform="rotate(-18 732.6 580.6)" fill="#4aa63e" stroke="#1f5e24" stroke-width="0.3"/>
<ellipse cx="736.6" cy="579.8" rx="2.0" ry="3.9" transform="rotate(-8 736.6 579.8)" fill="#2f8f35" stroke="#1f5e24" stroke-width="0.3"/>
<ellipse cx="740.2" cy="578.8" rx="1.6" ry="3.2" transform="rotate(12 740.2 578.8)" fill="#57ad4a" stroke="#1f5e24" stroke-width="0.3"/>
<ellipse cx="742.2" cy="586" rx="1.9" ry="4.6" transform="rotate(6 742.2 586)" fill="#257a2c" stroke="#1f5e24" stroke-width="0.3"/>
<ellipse cx="735.8" cy="590.6" rx="2.6" ry="4.6" transform="rotate(-58 735.8 590.6)" fill="#9bc93f" stroke="#1f5e24" stroke-width="0.3"/>
<ellipse cx="733.4" cy="587.4" rx="1.6" ry="3.2" transform="rotate(-30 733.4 587.4)" fill="#6bb544" stroke="#1f5e24" stroke-width="0.3"/>
<ellipse cx="746.6" cy="592.8" rx="2.2" ry="4.4" transform="rotate(-38 746.6 592.8)" fill="#2f8a34" stroke="#1f5e24" stroke-width="0.3"/>
<ellipse cx="742.6" cy="598.4" rx="2.7" ry="5.4" transform="rotate(-82 742.6 598.4)" fill="#3f9c3c" stroke="#1f5e24" stroke-width="0.3"/>
<ellipse cx="739.4" cy="594.6" rx="1.6" ry="3.0" transform="rotate(-60 739.4 594.6)" fill="#2f8f35" stroke="#1f5e24" stroke-width="0.3"/>
<circle cx="738.1" cy="588.1" r="1.3" fill="#cf2a2f" stroke="#8b171b" stroke-width="0.25"/>
<circle cx="742.2" cy="592.9" r="1.6" fill="#cf2a2f" stroke="#8b171b" stroke-width="0.25"/>
<circle cx="751.6" cy="598.8" r="1.5" fill="#cf2a2f" stroke="#8b171b" stroke-width="0.25"/>
<circle cx="737.4" cy="576.8" r="0.8" fill="#cf2a2f" stroke="#8b171b" stroke-width="0.25"/>
<path d="M783.4,571.4 Q782,589 765.6,602" fill="none" stroke="#3f5a28" stroke-width="0.7"/>
<ellipse cx="781.2" cy="571.4" rx="1.4" ry="2.8" transform="rotate(-10 781.2 571.4)" fill="#2f9a3c" stroke="#1a5e28" stroke-width="0.3"/>
<ellipse cx="783.9" cy="571.2" rx="1.4" ry="3.0" transform="rotate(12 783.9 571.2)" fill="#239038" stroke="#1a5e28" stroke-width="0.3"/>
<ellipse cx="784.8" cy="577.6" rx="1.7" ry="3.2" transform="rotate(48 784.8 577.6)" fill="#239038" stroke="#1a5e28" stroke-width="0.3"/>
<ellipse cx="777.8" cy="579.0" rx="1.7" ry="3.4" transform="rotate(-22 777.8 579.0)" fill="#2f9a3c" stroke="#1a5e28" stroke-width="0.3"/>
<ellipse cx="784.2" cy="586.6" rx="1.6" ry="3.2" transform="rotate(10 784.2 586.6)" fill="#239038" stroke="#1a5e28" stroke-width="0.3"/>
<ellipse cx="782" cy="595.6" rx="1.9" ry="3.6" transform="rotate(12 782 595.6)" fill="#1f7d32" stroke="#1a5e28" stroke-width="0.3"/>
<ellipse cx="775.6" cy="590.2" rx="1.7" ry="3.0" transform="rotate(-40 775.6 590.2)" fill="#2f9a3c" stroke="#1a5e28" stroke-width="0.3"/>
<ellipse cx="764.6" cy="598.4" rx="1.6" ry="3.0" transform="rotate(-40 764.6 598.4)" fill="#2f9a3c" stroke="#1a5e28" stroke-width="0.3"/>
<ellipse cx="773" cy="604.6" rx="1.6" ry="2.8" transform="rotate(55 773 604.6)" fill="#3aa544" stroke="#1a5e28" stroke-width="0.3"/>
<ellipse cx="775.8" cy="600.4" rx="1.5" ry="2.8" transform="rotate(40 775.8 600.4)" fill="#239038" stroke="#1a5e28" stroke-width="0.3"/>
<ellipse cx="786" cy="582.2" rx="1.2" ry="2.4" transform="rotate(20 786 582.2)" fill="#2f9a3c" stroke="#1a5e28" stroke-width="0.3"/>
<circle cx="780.9" cy="575" r="2.5" fill="#d32b2f" stroke="#98191d" stroke-width="0.35"/>
<circle cx="780.4" cy="574.6" r="1.38" fill="#e4474a" opacity="0.8"/>
<circle cx="781.1999999999999" cy="575.3" r="0.55" fill="#a81c20"/>
<circle cx="777.4" cy="584" r="3.5" fill="#d32b2f" stroke="#98191d" stroke-width="0.35"/>
<circle cx="776.9" cy="583.6" r="1.93" fill="#e4474a" opacity="0.8"/>
<circle cx="777.6999999999999" cy="584.3" r="0.77" fill="#a81c20"/>
<circle cx="781.9" cy="589.8" r="3.1" fill="#d32b2f" stroke="#98191d" stroke-width="0.35"/>
<circle cx="781.4" cy="589.4" r="1.71" fill="#e4474a" opacity="0.8"/>
<circle cx="782.1999999999999" cy="590.0999999999999" r="0.68" fill="#a81c20"/>
<circle cx="775.4" cy="594.7" r="2.8" fill="#d32b2f" stroke="#98191d" stroke-width="0.35"/>
<circle cx="774.9" cy="594.3000000000001" r="1.54" fill="#e4474a" opacity="0.8"/>
<circle cx="775.6999999999999" cy="595.0" r="0.62" fill="#a81c20"/>
<circle cx="769.5" cy="599.2" r="4.1" fill="#d32b2f" stroke="#98191d" stroke-width="0.35"/>
<circle cx="769.0" cy="598.8000000000001" r="2.25" fill="#e4474a" opacity="0.8"/>
<circle cx="769.8" cy="599.5" r="0.90" fill="#a81c20"/>
<path d="M745.8,606.4 Q751.6,610.2 758.8,610.8 Q766,610.2 771.6,608 L771.2,611 Q765.4,613.6 758.8,613.8 Q751.4,613.4 746.4,609.8 Z" fill="#f4f8fc" stroke="#9fb0c2" stroke-width="0.35"/>
<path d="M758.5,601.9 L754,598.6 Q751.8,601.4 754.6,604.6 Z M758.5,601.9 L763,598.6 Q765.2,601.4 762.4,604.6 Z" fill="#eef3f9" stroke="#93a4b8" stroke-width="0.35"/>
<path d="M757.8,602.6 L756,611 L758,610.2 Z M759.2,602.6 L761.4,611 L759.4,610.2 Z" fill="#dfe9f4" stroke="#a5b6c8" stroke-width="0.3"/>
<circle cx="756.6" cy="602" r="1.0" fill="#56627a"/><circle cx="760.8" cy="602" r="1.0" fill="#56627a"/>
<path d="M762.4,603.6 L766.8,605.2" stroke="#4a2f1e" stroke-width="0.8"/>
<path d="M751.8,604.6 L755,603.6" stroke="#2f7d34" stroke-width="0.9"/></g></defs>
<use href="#crest"/>
<ellipse cx="761.2" cy="654.3" rx="36" ry="34.2" fill="#4472c4"/>
<text class="sa" x="761.2" y="641.3" font-size="10.4" font-weight="bold" text-anchor="middle" textLength="20.4" lengthAdjust="spacingAndGlyphs" fill="#1b2566">CME</text>
<ellipse cx="761.7" cy="658.7" rx="12.2" ry="16.6" fill="#fdfdfd" stroke="#c9d3e8" stroke-width="0.4"/>
<use href="#crest" transform="translate(480.94,445.46) scale(0.37)"/>
<ellipse cx="757.3" cy="626.5" rx="4.9" ry="4.9" fill="#fbfbfb" stroke="#cfd6e4" stroke-width="0.4"/>
<path d="M755.6,624.2 l0.8,-1.4 l0.8,1.4 z M757.6,624.2 l0.8,-1.4 l0.8,1.4 z" fill="#e2453c"/>
<rect x="755" y="625.6" width="4.8" height="1.5" fill="#2f7fd6"/>
<rect x="755.6" y="627.8" width="3.6" height="1.0" fill="#9fd7ea"/>
<ellipse cx="768.5" cy="627.4" rx="4.9" ry="4.9" fill="#f7f7f7" stroke="#a9a9a9" stroke-width="0.7"/>
<path d="M766.4,625.2 L770.6,629.6 M770.6,625.2 L766.4,629.6" stroke="#9a6a6a" stroke-width="0.6"/>
<circle cx="768.5" cy="627.4" r="2.6" fill="none" stroke="#b5b5b5" stroke-width="0.5"/>
<ellipse cx="778.9" cy="631.7" rx="4.9" ry="4.7" fill="#fbfbfb" stroke="#cfd6e4" stroke-width="0.4"/>
<path d="M776.6,630 Q778,628.8 779.8,630.2 Q781.4,631.6 780.4,633 Q778.8,632.2 777.6,632.6 Z" fill="#27348f"/>
<path d="M776.8,634 H781" stroke="#b5b9cf" stroke-width="0.7"/>
<ellipse cx="787" cy="639.8" rx="4.6" ry="5.2" fill="#f2f6fc" stroke="#cfd6e4" stroke-width="0.4"/>
<path d="M784.6,637.8 H789.4 V640.6 Q789.4,642.4 787,643.4 Q784.6,642.4 784.6,640.6 Z" fill="#3f78c8"/>
<path d="M785.6,639.2 H788.4 V640.6 Q788.4,641.6 787,642.2 Q785.6,641.6 785.6,640.6 Z" fill="#e8f0fa"/>
<ellipse cx="791.5" cy="650.6" rx="4.7" ry="4.9" fill="#ffffff" stroke="#cfd6e4" stroke-width="0.4"/>
<path d="M790.7,647.2 h1.6 v1.5 h1.5 v1.6 h-1.5 v1.5 h-1.6 v-1.5 h-1.5 v-1.6 h1.5 z" fill="#e0222c"/>
<path d="M789.2,653.4 H793.8" stroke="#cfcfd6" stroke-width="0.7"/>
<ellipse cx="790.1" cy="662.7" rx="4.4" ry="5.2" fill="#fafaf3" stroke="#cfd6e4" stroke-width="0.4"/>
<ellipse cx="790.1" cy="661.6" rx="1.7" ry="2.4" fill="#e4e6b8"/>
<path d="M788,665.6 H792.2" stroke="#a9a9a0" stroke-width="0.9"/>
<ellipse cx="784.9" cy="672.1" rx="5.0" ry="4.9" fill="#eef6f4" stroke="#c5d9e6" stroke-width="0.4"/>
<circle cx="784.9" cy="672.1" r="3.6" fill="none" stroke="#2b93b3" stroke-width="1.1"/>
<path d="M783,671 L784.9,673.6 L786.8,671 L785.6,670.2 L784.9,671.4 L784.2,670.2 Z" fill="#e8c63a"/>
<ellipse cx="776" cy="679" rx="4.9" ry="4.9" fill="#c6e4f5" stroke="#dbe9f2" stroke-width="0.4"/>
<circle cx="776.4" cy="677.6" r="1.5" fill="#f2dc52"/>
<path d="M772.4,681 Q776,679.6 779.6,681 Q778.6,683.4 776,683.6 Q773.4,683.4 772.4,681 Z" fill="#7fba5a"/>
<ellipse cx="764.4" cy="681.9" rx="5.2" ry="4.9" fill="#e1e1e1" stroke="#bdbdbd" stroke-width="0.6"/>
<circle cx="764.4" cy="681.9" r="3.6" fill="#f2f2f2" stroke="#8d8d8d" stroke-width="0.5"/>
<path d="M762.6,680.2 H766.2 V682.4 Q766.2,683.8 764.4,684.6 Q762.6,683.8 762.6,682.4 Z" fill="#2f5b3c"/>
<rect x="763.4" y="680.8" width="2" height="1.4" fill="#8a2f3a"/>
<ellipse cx="751.3" cy="681" rx="6.4" ry="4.4" fill="#ffffff" stroke="#cfd6e4" stroke-width="0.4"/>
<text class="sa" x="751.3" y="682.2" font-size="4.6" font-weight="bold" text-anchor="middle" fill="#e8772a">SL</text>
<path d="M748,683.4 H754.6" stroke="#e8a24a" stroke-width="0.7"/>
<ellipse cx="740.6" cy="674.4" rx="5.0" ry="5.0" fill="#f3cb1f" stroke="#e0b81a" stroke-width="0.4"/>
<rect x="738.2" y="671.6" width="4.8" height="5.6" rx="0.6" fill="#4a88d8"/>
<rect x="739.2" y="672.6" width="2.8" height="3.4" fill="#d8e6c0"/>
<ellipse cx="735.1" cy="665.7" rx="6.4" ry="3.9" fill="#ffffff" stroke="#3a3a3a" stroke-width="0.5"/>
<path d="M731.2,664.6 H739 M731.6,666.4 H738.6" stroke="#2a2a2a" stroke-width="0.9" stroke-dasharray="1.1,0.45"/>
<ellipse cx="731.6" cy="656.1" rx="4.9" ry="5.0" fill="#f9f9f9" stroke="#cfd6e4" stroke-width="0.4"/>
<path d="M728.4,657.4 A3.4,3.4 0 0 0 734.8,657.4" fill="none" stroke="#1c1c1c" stroke-width="1.1"/>
<circle cx="731.6" cy="654.8" r="1.7" fill="#9cc47a"/><circle cx="731.6" cy="654.8" r="0.8" fill="#ffffff"/>
<ellipse cx="733.6" cy="646" rx="4.9" ry="4.7" fill="#fbf6ec" stroke="#cfd6e4" stroke-width="0.4"/>
<path d="M733.6,642.6 L737,648 H730.2 Z" fill="#ec8a1f"/>
<path d="M732.6,647.2 h2 v-1.6 h-2 z" fill="#3a2a1a"/>
<path d="M730.6,649 H736.6" stroke="#3a3a3a" stroke-width="0.6"/>
<ellipse cx="738.3" cy="636.3" rx="4.7" ry="5.1" fill="#8f1f25" stroke="#7a161c" stroke-width="0.4"/>
<ellipse cx="738.3" cy="636.3" rx="3.1" ry="3.4" fill="#f4eeee"/>
<path d="M736.8,635 H739.8 V636.6 Q739.8,638 738.3,638.6 Q736.8,638 736.8,636.6 Z" fill="#3a3036"/>
<rect x="737.2" y="634.4" width="2.2" height="0.9" fill="#d9b84a"/>
<ellipse cx="746.7" cy="629.7" rx="5.0" ry="4.9" fill="#f8f8f8" stroke="#b9b9b9" stroke-width="0.6"/>
<circle cx="746.7" cy="629.7" r="3.3" fill="none" stroke="#8f8f8f" stroke-width="0.5"/>
<path d="M745.4,631.4 L746.7,627.8 L748,631.4 M745.2,630.2 H748.2" stroke="#6a6a6a" stroke-width="0.55" fill="none"/>
</svg>
</body></html>
